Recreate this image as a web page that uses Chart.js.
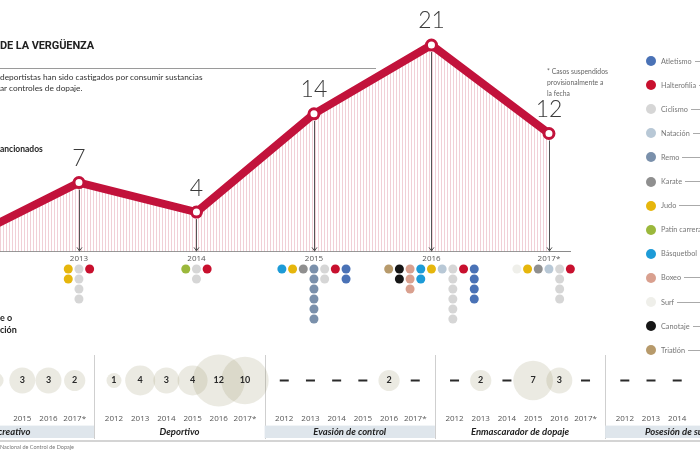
<!DOCTYPE html>
<html>
<head>
<meta charset="utf-8">
<script src="https://cdn.jsdelivr.net/npm/chart.js@4.4.0/dist/chart.umd.min.js"></script>
<style>
  body { margin: 0; width: 700px; height: 450px; overflow: hidden; background: #fff; position: relative; font-family: Lato, "Open Sans", sans-serif; }
  .abs { position: absolute; white-space: nowrap; }
  #titulo { left: 0; top: 39px; font: 700 11px Roboto, sans-serif; color: #222; letter-spacing: -0.1px; }
  #regla { left: 0; top: 68px; width: 376px; height: 1px; background: #9a9a9a; }
  #bajada { left: 0; top: 72px; font-size: 8.3px; line-height: 11px; color: #333; }
  #sanc { left: 0; top: 144px; font-weight: 700; font-size: 8.5px; color: #222; }
  #tipo { left: 0; top: 312px; font-weight: 700; font-size: 9px; line-height: 12px; color: #222; }
  #nota { left: 547px; top: 66px; font-size: 6.8px; line-height: 11px; color: #666; }
  #pie { left: 0; top: 444px; font-size: 5.5px; color: #777; }
  #rayaFinal { left: 0; top: 440px; width: 700px; height: 2px; background: #d4d4d4; }
  #leyenda { left: 646px; top: 0; width: 60px; }
  .fila { position: absolute; left: 0; width: 60px; height: 12px; display: flex; align-items: center; }
  .fila i { width: 10px; height: 10px; border-radius: 50%; flex: none; margin-right: 5px; }
  .fila span { font-size: 7.3px; color: #777; flex: none; }
  .fila b { flex: 1; min-width: 6px; height: 1px; background: #aaa; margin-left: 3px; }
  .lienzo { position: absolute; left: 0; width: 700px; }
</style>
</head>
<body>
<div class="lienzo" style="top:0;height:267px"><canvas id="main"></canvas></div>
<div class="lienzo" style="top:264px;height:70px"><canvas id="dots"></canvas></div>
<div class="lienzo" style="top:340px;height:105px"><canvas id="bubbles"></canvas></div>

<div class="abs" id="titulo">DE LA VERGÜENZA</div>
<div class="abs" id="regla"></div>
<div class="abs" id="bajada">deportistas han sido castigados por consumir sustancias<br>ar controles de dopaje.</div>
<div class="abs" id="sanc">ancionados</div>
<div class="abs" id="tipo">e o<br>ción</div>
<div class="abs" id="nota">* Casos suspendidos<br>provisionalmente a<br>la fecha</div>
<div class="abs" id="rayaFinal"></div>
<div class="abs" id="pie">Nacional de Control de Dopaje</div>
<div class="abs" id="leyenda"></div>

<script>
// --- datos ---
const anios = [2012, 2013, 2014, 2015, 2016, 2017];
const etiquetasAnio = ["2012", "2013", "2014", "2015", "2016", "2017*"];
const sancionados = [1, 7, 4, 14, 21, 12];

const deportes = ["Atletismo", "Halterofilia", "Ciclismo", "Natación", "Remo", "Karate", "Judo",
  "Patín carreras", "Básquetbol", "Boxeo", "Surf", "Canotaje", "Triatlón"];
const coloresDeporte = ["#4a72b6", "#c8102e", "#d6d6d6", "#b8c8d6", "#7a90ab", "#8f8f8f", "#e6b60c",
  "#9bb83c", "#1d9bd7", "#d9a08f", "#efefea", "#161616", "#b79a6b"];

// columnas de puntos por año: [deporte, casos]
const casos2013 = [["Judo", 2], ["Ciclismo", 4], ["Halterofilia", 1]];
const casos2014 = [["Patín carreras", 1], ["Ciclismo", 2], ["Halterofilia", 1]];
const casos2015 = [["Básquetbol", 1], ["Judo", 1], ["Karate", 1], ["Remo", 6], ["Ciclismo", 2], ["Halterofilia", 1], ["Atletismo", 2]];
const casos2016 = [["Triatlón", 1], ["Canotaje", 2], ["Boxeo", 3], ["Básquetbol", 2], ["Judo", 1], ["Natación", 1], ["Ciclismo", 6], ["Halterofilia", 1], ["Atletismo", 4]];
const casos2017 = [["Surf", 1], ["Judo", 1], ["Karate", 1], ["Natación", 1], ["Ciclismo", 4], ["Halterofilia", 2], ["Atletismo", 2]];

const motivos = ["Recreativo", "Deportivo", "Evasión de control", "Enmascarador de dopaje", "Posesión de sustancias"];
const recreativo = [null, null, 1, 3, 3, 2];
const deportivo = [1, 4, 3, 4, 12, 10];
const evasion = [0, 0, 0, 0, 2, 0];
const enmascarador = [0, 2, 0, 7, 3, 0];
const posesion = [0, 0, 0, null, null, null];

// --- estilo ---
const rojo = "#c2123b";
const xMin = 2012.328, xMax = 2017.179;
const yMax = 23.55;

// leyenda
const leyenda = document.getElementById("leyenda");
deportes.forEach((d, i) => {
  const fila = document.createElement("div");
  fila.className = "fila";
  fila.style.top = (55 + i * 24.1) + "px";
  fila.innerHTML = `<i style="background:${coloresDeporte[i]}"></i><span>${d}</span><b></b>`;
  leyenda.appendChild(fila);
});

// rayado vertical del área
const mainCtx = document.getElementById("main").getContext("2d");
const tile = document.createElement("canvas");
tile.width = 3;
tile.height = 10;
const tg = tile.getContext("2d");
tg.fillStyle = "#fff";
tg.fillRect(0, 0, 3, 10);
tg.fillStyle = "#f1d0d7";
tg.fillRect(0, 0, 1, 10);
const rayado = mainCtx.createPattern(tile, "repeat");

const lineasCaida = {
  id: "lineasCaida",
  afterDatasetsDraw(chart) {
    const { ctx, scales } = chart;
    const meta = chart.getDatasetMeta(0);
    const base = scales.y.getPixelForValue(0);
    ctx.save();
    ctx.strokeStyle = "#555";
    ctx.lineWidth = 1;
    meta.data.forEach((pt, i) => {
      if (pt.x < chart.chartArea.left) return;
      const x = Math.round(pt.x) + 0.5;
      ctx.beginPath();
      ctx.moveTo(x, pt.y + 7);
      ctx.lineTo(x, base);
      ctx.moveTo(x - 2.5, base - 4);
      ctx.lineTo(x, base - 0.5);
      ctx.lineTo(x + 2.5, base - 4);
      ctx.stroke();
      ctx.fillStyle = "#3a3a3a";
      ctx.font = "300 23px Lato";
      ctx.textAlign = "center";
      ctx.textBaseline = "middle";
      ctx.fillText(String(sancionados[i]), pt.x, pt.y - 24);
    });
    ctx.restore();
  }
};

new Chart(mainCtx, {
  type: "line",
  data: {
    datasets: [{
      data: anios.map((a, i) => ({ x: a, y: sancionados[i] })),
      borderColor: rojo,
      borderWidth: 8,
      borderJoinStyle: "round",
      fill: "origin",
      backgroundColor: rayado,
      pointRadius: 5,
      pointBorderWidth: 3,
      pointBackgroundColor: "#fff",
      pointBorderColor: rojo,
      tension: 0
    }]
  },
  options: {
    responsive: true,
    maintainAspectRatio: false,
    animation: false,
    layout: { autoPadding: false, padding: { left: 0, right: 130, top: 20, bottom: 0 } },
    plugins: { legend: { display: false }, tooltip: { enabled: false } },
    scales: {
      x: {
        type: "linear",
        min: xMin,
        max: xMax,
        grid: { display: false, drawTicks: false },
        border: { display: true, color: "#8a8a8a" },
        afterBuildTicks: (s) => {
          s.ticks = anios.filter((a) => a >= s.min && a <= s.max).map((v) => ({ value: v }));
        },
        ticks: {
          autoSkip: false,
          padding: 3,
          color: "#555",
          font: { size: 8, family: "Open Sans" },
          callback: (v) => etiquetasAnio[anios.indexOf(v)]
        }
      },
      y: { display: false, min: 0, max: yMax }
    }
  },
  plugins: [lineasCaida]
});

// puntos de colores por deporte
const puntos = [];
const coloresPuntos = [];
const paso = 0.091;
[[2013, casos2013], [2014, casos2014], [2015, casos2015], [2016, casos2016], [2017, casos2017]].forEach(([anio, cols]) => {
  cols.forEach(([dep, n], c) => {
    const x = anio + (c - (cols.length - 1) / 2) * paso;
    for (let k = 0; k < n; k++) {
      puntos.push({ x, y: k });
      coloresPuntos.push(coloresDeporte[deportes.indexOf(dep)]);
    }
  });
});

new Chart(document.getElementById("dots"), {
  type: "scatter",
  data: {
    datasets: [{
      data: puntos,
      pointRadius: 4.5,
      pointBorderWidth: 0,
      pointBackgroundColor: coloresPuntos,
      clip: false
    }]
  },
  options: {
    responsive: true,
    maintainAspectRatio: false,
    animation: false,
    layout: { autoPadding: false, padding: { left: 0, right: 130, top: 0, bottom: 0 } },
    plugins: { legend: { display: false }, tooltip: { enabled: false } },
    scales: {
      x: { type: "linear", display: false, min: xMin, max: xMax },
      y: { display: false, reverse: true, min: -0.5, max: 6.5 }
    }
  }
});

// burbujas por motivo
const series = [recreativo, deportivo, evasion, enmascarador, posesion];
const periodo = 6.5;
const bMin = 2.149, bMax = 28.87;
const burbujas = [];
series.forEach((vals, p) => {
  vals.forEach((v, j) => {
    if (v === null) return;
    burbujas.push({ x: p * periodo + j, y: 0, r: v > 0 ? 7.5 * Math.sqrt(v) : 0, v, j });
  });
});

const sinRelleno = (s) => {
  s.paddingLeft = 0;
  s.paddingRight = 0;
};

const paneles = {
  id: "paneles",
  beforeDraw(chart) {
    const { ctx, scales } = chart;
    const s2 = scales.x2;
    ctx.save();
    series.forEach((_, p) => {
      const a = scales.x.getPixelForValue(p * periodo - 0.75);
      const b = scales.x.getPixelForValue(p * periodo + 5.75);
      if (p % 2 === 0) {
        ctx.fillStyle = "#dfe6ec";
        ctx.fillRect(a, s2.top, b - a, s2.bottom - s2.top - 1);
      }
      ctx.fillStyle = "#cfcfcf";
      ctx.fillRect(Math.round(b), 15, 1, s2.bottom - 15);
    });
    ctx.restore();
  },
  afterDatasetsDraw(chart) {
    const { ctx } = chart;
    const meta = chart.getDatasetMeta(0);
    ctx.save();
    ctx.textAlign = "center";
    ctx.textBaseline = "middle";
    ctx.fillStyle = "#2a2a2a";
    meta.data.forEach((el, i) => {
      const d = burbujas[i];
      if (d.v > 0) {
        ctx.font = "700 9px Lato";
        ctx.fillText(String(d.v), el.x, el.y);
      } else {
        ctx.fillRect(el.x - 4.5, el.y - 1, 9, 2);
      }
    });
    ctx.restore();
  }
};

new Chart(document.getElementById("bubbles"), {
  type: "bubble",
  data: {
    datasets: [{
      data: burbujas,
      backgroundColor: "rgba(135,130,85,0.17)",
      borderWidth: 0,
      clip: false
    }]
  },
  options: {
    responsive: true,
    maintainAspectRatio: false,
    animation: false,
    layout: { autoPadding: false, padding: { left: 0, right: 0, top: 9, bottom: 6 } },
    plugins: { legend: { display: false }, tooltip: { enabled: false } },
    scales: {
      x: {
        type: "linear",
        min: bMin,
        max: bMax,
        weight: 0,
        grid: { display: false, drawTicks: false },
        border: { display: false },
        afterBuildTicks: (s) => {
          const t = [];
          series.forEach((_, p) => anios.forEach((a, j) => {
            const v = p * periodo + j;
            if (v >= s.min && v <= s.max) t.push({ value: v });
          }));
          s.ticks = t;
        },
        afterFit: sinRelleno,
        ticks: {
          autoSkip: false,
          maxRotation: 0,
          padding: 2,
          color: "#555",
          font: { size: 8, family: "Open Sans" },
          callback: (v) => etiquetasAnio[Math.round(v % periodo)]
        }
      },
      x2: {
        type: "linear",
        axis: "x",
        position: "bottom",
        min: bMin,
        max: bMax,
        weight: 1,
        grid: { display: false, drawTicks: false },
        border: { display: false },
        afterBuildTicks: (s) => {
          s.ticks = motivos.map((_, p) => ({ value: p * periodo + 2.5 }));
        },
        afterFit: sinRelleno,
        ticks: {
          autoSkip: false,
          maxRotation: 0,
          padding: 1,
          color: "#222",
          font: { size: 9.5, family: "Lato", weight: "700", style: "italic" },
          callback: (v) => motivos[Math.round((v - 2.5) / periodo)]
        }
      },
      y: { display: false, min: -1, max: 1 }
    }
  },
  plugins: [paneles]
});
</script>
</body>
</html>
